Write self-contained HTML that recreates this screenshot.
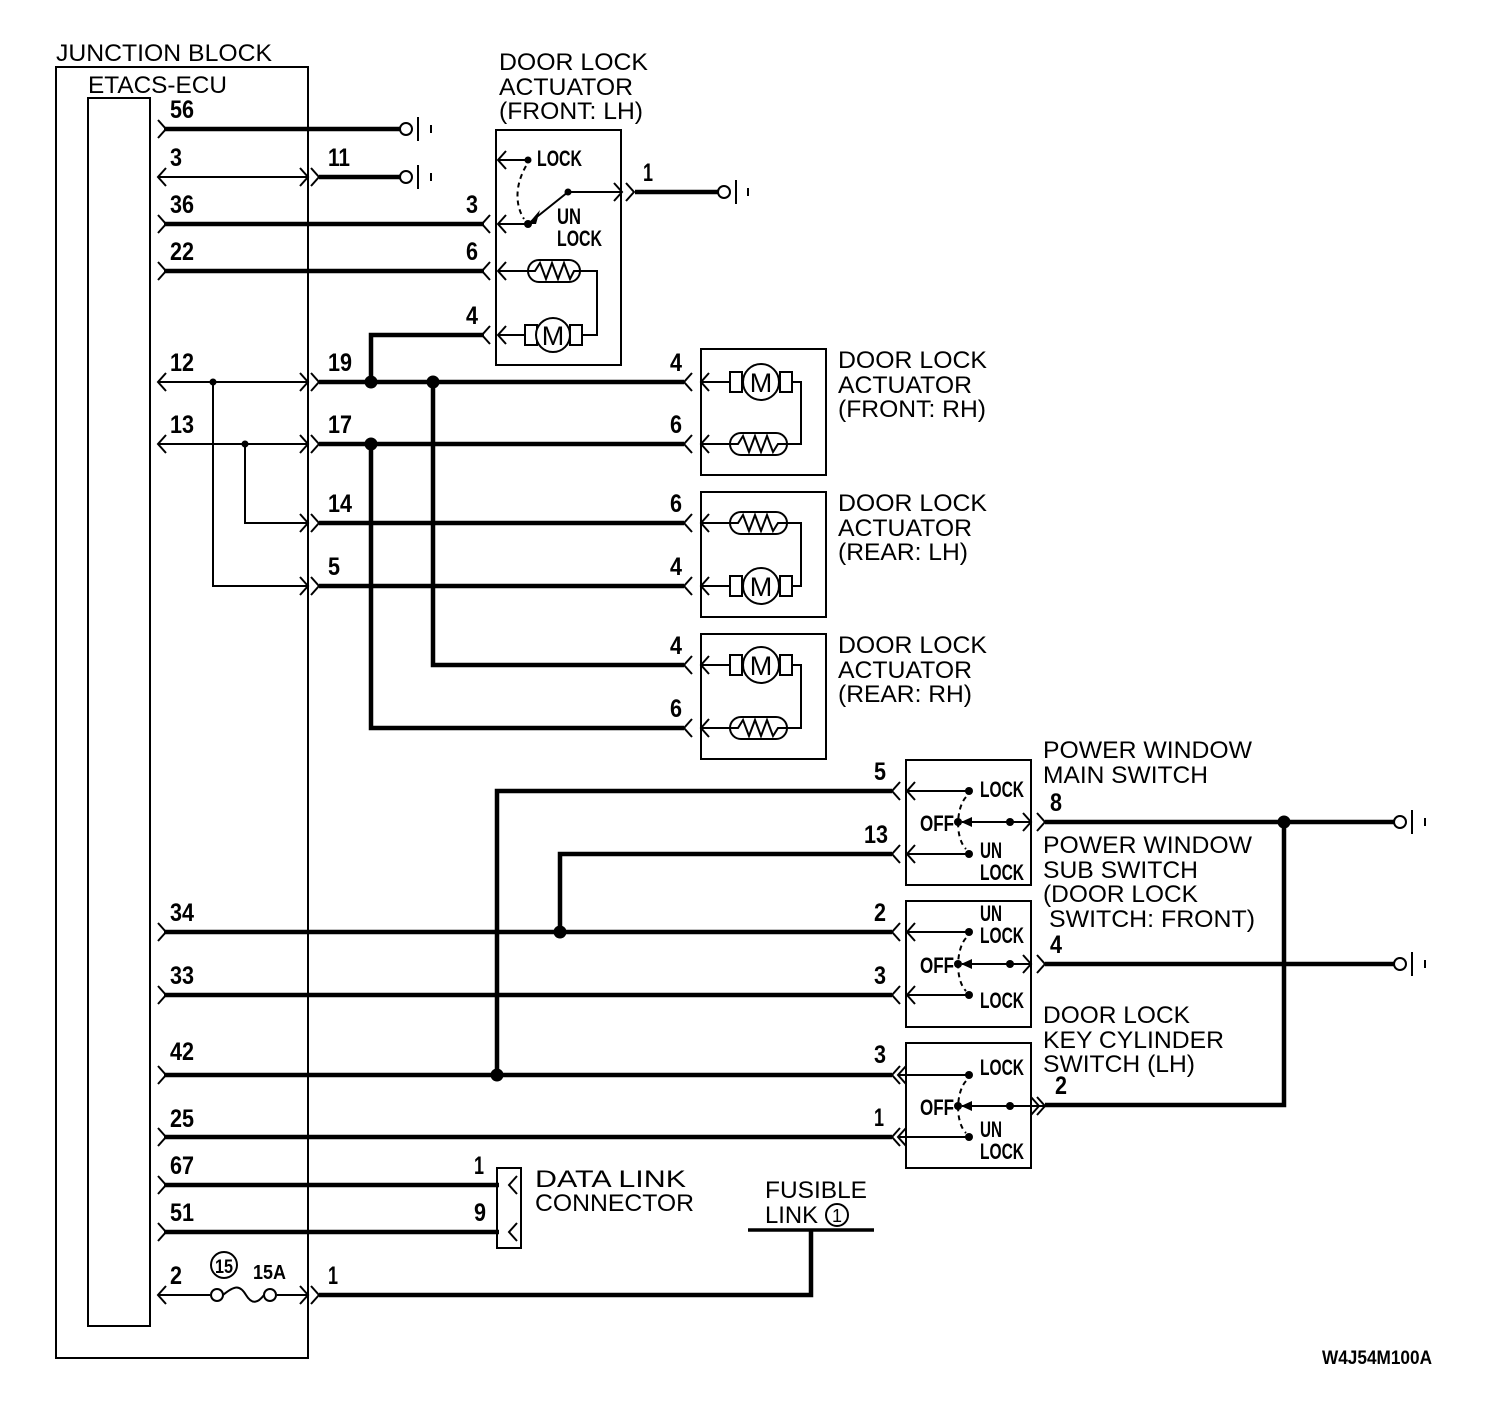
<!DOCTYPE html>
<html><head><meta charset="utf-8"><style>
html,body{margin:0;padding:0;background:#fff}
svg{display:block}
.t{stroke:#000;stroke-width:2;fill:none}
.k{stroke:#000;stroke-width:4.5;fill:none}
.b{stroke:#000;stroke-width:2;fill:none}
.l{font-family:"Liberation Sans",sans-serif;font-size:24px;fill:#000}
.n{font-family:"Liberation Sans",sans-serif;font-size:25px;font-weight:bold;fill:#000}
.s{font-family:"Liberation Sans",sans-serif;font-size:22px;font-weight:bold;fill:#000}
</style></head><body>
<svg width="1504" height="1424" viewBox="0 0 1504 1424" xmlns="http://www.w3.org/2000/svg">
<rect x="56" y="67" width="252" height="1291" class="b"/>
<rect x="88" y="98" width="62" height="1228" class="b"/>
<text x="56" y="61" class="l" textLength="216" lengthAdjust="spacingAndGlyphs">JUNCTION BLOCK</text>
<text x="88" y="93" class="l" textLength="139" lengthAdjust="spacingAndGlyphs">ETACS-ECU</text>

<g class="t">
<path d="M158,120 L166,129 L158,138"/>
<path d="M166,168 L158,177 L166,186"/>
<path d="M158,215 L166,224 L158,233"/>
<path d="M158,262 L166,271 L158,280"/>
<path d="M166,373 L158,382 L166,391"/>
<path d="M166,435 L158,444 L166,453"/>
<path d="M158,923 L166,932 L158,941"/>
<path d="M158,986 L166,995 L158,1004"/>
<path d="M158,1066 L166,1075 L158,1084"/>
<path d="M158,1128 L166,1137 L158,1146"/>
<path d="M158,1176 L166,1185 L158,1194"/>
<path d="M158,1223 L166,1232 L158,1241"/>
<path d="M166,1286 L158,1295 L166,1304"/>
<path d="M300,168 L308,177 L300,186"/><path d="M311,168 L319,177 L311,186"/>
<path d="M300,373 L308,382 L300,391"/><path d="M311,373 L319,382 L311,391"/>
<path d="M300,435 L308,444 L300,453"/><path d="M311,435 L319,444 L311,453"/>
<path d="M300,514 L308,523 L300,532"/><path d="M311,514 L319,523 L311,532"/>
<path d="M300,577 L308,586 L300,595"/><path d="M311,577 L319,586 L311,595"/>
<path d="M300,1286 L308,1295 L300,1304"/><path d="M311,1286 L319,1295 L311,1304"/>
</g>

<g class="t">
<line x1="158" y1="177" x2="308" y2="177"/>
<line x1="158" y1="382" x2="308" y2="382"/>
<line x1="158" y1="444" x2="308" y2="444"/>
<polyline points="213,382 213,586 308,586"/>
<polyline points="245,444 245,523 308,523"/>
<line x1="158" y1="1295" x2="210" y2="1295"/>
<line x1="277" y1="1295" x2="308" y2="1295"/>
<circle cx="217" cy="1295" r="6"/><circle cx="270" cy="1295" r="6"/>
<path d="M223,1295 C235,1285 240,1285 246,1295 C252,1305 258,1303 264,1295"/>
<circle cx="224" cy="1265" r="13"/>
</g>
<circle cx="213" cy="382" r="3.5"/><circle cx="245" cy="444" r="3.5"/>

<g class="k">
<line x1="164" y1="129" x2="400" y2="129"/>
<line x1="319" y1="177" x2="400" y2="177"/>
<line x1="164" y1="224" x2="484" y2="224"/>
<line x1="164" y1="271" x2="484" y2="271"/>
<polyline points="371,382 371,335 484,335"/>
<line x1="319" y1="382" x2="684" y2="382"/>
<line x1="319" y1="444" x2="684" y2="444"/>
<line x1="319" y1="523" x2="684" y2="523"/>
<line x1="319" y1="586" x2="684" y2="586"/>
<polyline points="433,382 433,665 684,665"/>
<polyline points="371,444 371,728 684,728"/>
<line x1="164" y1="932" x2="892" y2="932"/>
<line x1="164" y1="995" x2="892" y2="995"/>
<line x1="164" y1="1075" x2="892" y2="1075"/>
<line x1="164" y1="1137" x2="892" y2="1137"/>
<polyline points="497,1075 497,791 892,791"/>
<polyline points="560,932 560,854 892,854"/>
<line x1="164" y1="1185" x2="499" y2="1185"/>
<line x1="164" y1="1232" x2="499" y2="1232"/>
<polyline points="319,1295 811,1295 811,1230"/>
<line x1="748" y1="1230" x2="874" y2="1230" style="stroke-width:3.5"/>
<line x1="635" y1="192" x2="718" y2="192"/>
<line x1="1045" y1="822" x2="1394" y2="822"/>
<line x1="1045" y1="964" x2="1394" y2="964"/>
<polyline points="1045,1105 1284,1105 1284,822"/>
</g>
<circle cx="371" cy="382" r="6.5"/><circle cx="433" cy="382" r="6.5"/><circle cx="371" cy="444" r="6.5"/>
<circle cx="560" cy="932" r="6.5"/><circle cx="497" cy="1075" r="6.5"/><circle cx="1284" cy="822" r="6.5"/>

<g class="t">
<circle cx="406" cy="129" r="6"/><line x1="418" y1="117" x2="418" y2="141"/><line x1="431" y1="125" x2="431" y2="133"/>
<circle cx="406" cy="177" r="6"/><line x1="418" y1="165" x2="418" y2="189"/><line x1="431" y1="173" x2="431" y2="181"/>
<circle cx="724" cy="192" r="6"/><line x1="736" y1="180" x2="736" y2="204"/><line x1="748" y1="188" x2="748" y2="196"/>
<circle cx="1400" cy="822" r="6"/><line x1="1412" y1="810" x2="1412" y2="834"/><line x1="1425" y1="818" x2="1425" y2="826"/>
<circle cx="1400" cy="964" r="6"/><line x1="1412" y1="952" x2="1412" y2="976"/><line x1="1425" y1="960" x2="1425" y2="968"/>
</g>

<rect x="496" y="130" width="125" height="235" class="b"/>
<g class="t">
<path d="M490,215 L482,224 L490,233"/><path d="M506,215 L498,224 L506,233"/>
<path d="M490,262 L482,271 L490,280"/><path d="M506,262 L498,271 L506,280"/>
<path d="M490,326 L482,335 L490,344"/><path d="M506,326 L498,335 L506,344"/>
<path d="M506,151 L498,160 L506,169"/>
<line x1="498" y1="160" x2="528" y2="160"/>
<line x1="498" y1="224" x2="528" y2="224"/>
<line x1="528" y1="224" x2="568" y2="192"/>
<line x1="568" y1="192" x2="622" y2="192"/>
<path d="M614,183 L622,192 L614,201"/><path d="M626,183 L634,192 L626,201"/>
<path d="M526,166 C515,185 515,205 524,219" stroke-dasharray="5,4"/>
<line x1="498" y1="271" x2="528" y2="271"/>
<rect x="528" y="260" width="52" height="22" rx="11"/>
<polyline points="528,271 535,271 540,263 546,279 552,263 558,279 564,263 570,279 574,271 580,271"/>
<polyline points="580,271 597,271 597,335 582,335"/>
<line x1="498" y1="335" x2="525" y2="335"/>
<rect x="525" y="325" width="12" height="20"/><rect x="570" y="325" width="12" height="20"/>
<circle cx="553" cy="335" r="17" fill="#fff"/>
</g>
<path d="M528,224 L540,210 L536,224 Z"/>
<circle cx="528" cy="160" r="3.5"/><circle cx="528" cy="224" r="4"/><circle cx="568" cy="192" r="3.5"/>
<text x="553" y="345" class="l" text-anchor="middle" style="font-size:27px">M</text>
<text x="537" y="166" class="s" textLength="45" lengthAdjust="spacingAndGlyphs">LOCK</text>
<text x="557" y="224" class="s" textLength="24" lengthAdjust="spacingAndGlyphs">UN</text>
<text x="557" y="246" class="s" textLength="45" lengthAdjust="spacingAndGlyphs">LOCK</text>
<text x="499" y="70" class="l" textLength="149" lengthAdjust="spacingAndGlyphs">DOOR LOCK</text>
<text x="499" y="95" class="l" textLength="134" lengthAdjust="spacingAndGlyphs">ACTUATOR</text>
<text x="499" y="119" class="l" textLength="144" lengthAdjust="spacingAndGlyphs">(FRONT: LH)</text>

<g class="t">
<rect x="701" y="349" width="125" height="126"/>
<rect x="701" y="492" width="125" height="125"/>
<rect x="701" y="634" width="125" height="125"/>
<path d="M692,373 L684,382 L692,391"/><path d="M709,373 L701,382 L709,391"/>
<path d="M692,435 L684,444 L692,453"/><path d="M709,435 L701,444 L709,453"/>
<path d="M692,514 L684,523 L692,532"/><path d="M709,514 L701,523 L709,532"/>
<path d="M692,577 L684,586 L692,595"/><path d="M709,577 L701,586 L709,595"/>
<path d="M692,656 L684,665 L692,674"/><path d="M709,656 L701,665 L709,674"/>
<path d="M692,719 L684,728 L692,737"/><path d="M709,719 L701,728 L709,737"/>
</g>
<g class="t">
<line x1="701" y1="382" x2="730" y2="382"/><rect x="730" y="372" width="12" height="20"/><rect x="780" y="372" width="12" height="20"/><circle cx="761" cy="382" r="18" fill="#fff"/>
<line x1="701" y1="444" x2="730" y2="444"/><rect x="730" y="433" width="57" height="22" rx="11"/>
<polyline points="730,444 738,444 743,436 749,452 755,436 761,452 767,436 773,452 778,444 787,444"/>
<polyline points="792,382 801,382 801,444 787,444"/>
<line x1="701" y1="523" x2="730" y2="523"/><rect x="730" y="512" width="57" height="22" rx="11"/>
<polyline points="730,523 738,523 743,515 749,531 755,515 761,531 767,515 773,531 778,523 787,523"/>
<line x1="701" y1="586" x2="730" y2="586"/><rect x="730" y="576" width="12" height="20"/><rect x="780" y="576" width="12" height="20"/><circle cx="761" cy="586" r="18" fill="#fff"/>
<polyline points="787,523 801,523 801,586 792,586"/>
<line x1="701" y1="665" x2="730" y2="665"/><rect x="730" y="655" width="12" height="20"/><rect x="780" y="655" width="12" height="20"/><circle cx="761" cy="665" r="18" fill="#fff"/>
<line x1="701" y1="728" x2="730" y2="728"/><rect x="730" y="717" width="57" height="22" rx="11"/>
<polyline points="730,728 738,728 743,720 749,736 755,720 761,736 767,720 773,736 778,728 787,728"/>
<polyline points="792,665 801,665 801,728 787,728"/>
</g>
<text x="761" y="392" class="l" text-anchor="middle" style="font-size:27px">M</text>
<text x="761" y="596" class="l" text-anchor="middle" style="font-size:27px">M</text>
<text x="761" y="675" class="l" text-anchor="middle" style="font-size:27px">M</text>
<text x="838" y="368" class="l" textLength="149" lengthAdjust="spacingAndGlyphs">DOOR LOCK</text>
<text x="838" y="393" class="l" textLength="134" lengthAdjust="spacingAndGlyphs">ACTUATOR</text>
<text x="838" y="417" class="l" textLength="148" lengthAdjust="spacingAndGlyphs">(FRONT: RH)</text>
<text x="838" y="511" class="l" textLength="149" lengthAdjust="spacingAndGlyphs">DOOR LOCK</text>
<text x="838" y="536" class="l" textLength="134" lengthAdjust="spacingAndGlyphs">ACTUATOR</text>
<text x="838" y="560" class="l" textLength="130" lengthAdjust="spacingAndGlyphs">(REAR: LH)</text>
<text x="838" y="653" class="l" textLength="149" lengthAdjust="spacingAndGlyphs">DOOR LOCK</text>
<text x="838" y="678" class="l" textLength="134" lengthAdjust="spacingAndGlyphs">ACTUATOR</text>
<text x="838" y="702" class="l" textLength="134" lengthAdjust="spacingAndGlyphs">(REAR: RH)</text>

<g class="t">
<rect x="906" y="760" width="125" height="125"/>
<rect x="906" y="901" width="125" height="126"/>
<rect x="906" y="1043" width="125" height="125"/>
<path d="M900,782 L892,791 L900,800"/><path d="M915,782 L907,791 L915,800"/><line x1="907" y1="791" x2="969" y2="791"/>
<path d="M900,845 L892,854 L900,863"/><path d="M915,845 L907,854 L915,863"/><line x1="907" y1="854" x2="969" y2="854"/>
<line x1="962" y1="822" x2="1031" y2="822"/><path d="M1023,813 L1031,822 L1023,831"/><path d="M1037,813 L1045,822 L1037,831"/>
<path d="M966,797 C956,808 955,838 966,849" stroke-dasharray="5,4"/>
<path d="M900,923 L892,932 L900,941"/><path d="M915,923 L907,932 L915,941"/><line x1="907" y1="932" x2="969" y2="932"/>
<path d="M900,986 L892,995 L900,1004"/><path d="M915,986 L907,995 L915,1004"/><line x1="907" y1="995" x2="969" y2="995"/>
<line x1="962" y1="964" x2="1031" y2="964"/><path d="M1023,955 L1031,964 L1023,973"/><path d="M1037,955 L1045,964 L1037,973"/>
<path d="M966,938 C956,949 955,980 966,991" stroke-dasharray="5,4"/>
<path d="M900,1066 L892,1075 L900,1084"/><path d="M906,1066 L898,1075 L906,1084"/><line x1="898" y1="1075" x2="969" y2="1075"/>
<path d="M900,1128 L892,1137 L900,1146"/><path d="M906,1128 L898,1137 L906,1146"/><line x1="898" y1="1137" x2="969" y2="1137"/>
<line x1="962" y1="1106" x2="1045" y2="1106"/><path d="M1031,1097 L1039,1106 L1031,1115"/><path d="M1037,1097 L1045,1106 L1037,1115"/>
<path d="M966,1081 C956,1092 955,1122 966,1133" stroke-dasharray="5,4"/>
</g>
<g>
<circle cx="969" cy="791" r="4"/><circle cx="969" cy="854" r="4"/><circle cx="958" cy="822" r="4"/><circle cx="1010" cy="822" r="4"/><path d="M961,822 L972,817 L972,827 Z"/>
<circle cx="969" cy="932" r="4"/><circle cx="969" cy="995" r="4"/><circle cx="958" cy="964" r="4"/><circle cx="1010" cy="964" r="4"/><path d="M961,964 L972,959 L972,969 Z"/>
<circle cx="969" cy="1075" r="4"/><circle cx="969" cy="1137" r="4"/><circle cx="958" cy="1106" r="4"/><circle cx="1010" cy="1106" r="4"/><path d="M961,1106 L972,1101 L972,1111 Z"/>
</g>
<text x="980" y="797" class="s" textLength="44" lengthAdjust="spacingAndGlyphs">LOCK</text>
<text x="920" y="831" class="s" textLength="34" lengthAdjust="spacingAndGlyphs">OFF</text>
<text x="980" y="858" class="s" textLength="22" lengthAdjust="spacingAndGlyphs">UN</text>
<text x="980" y="880" class="s" textLength="44" lengthAdjust="spacingAndGlyphs">LOCK</text>
<text x="980" y="921" class="s" textLength="22" lengthAdjust="spacingAndGlyphs">UN</text>
<text x="980" y="943" class="s" textLength="44" lengthAdjust="spacingAndGlyphs">LOCK</text>
<text x="920" y="973" class="s" textLength="34" lengthAdjust="spacingAndGlyphs">OFF</text>
<text x="980" y="1008" class="s" textLength="44" lengthAdjust="spacingAndGlyphs">LOCK</text>
<text x="980" y="1075" class="s" textLength="44" lengthAdjust="spacingAndGlyphs">LOCK</text>
<text x="920" y="1115" class="s" textLength="34" lengthAdjust="spacingAndGlyphs">OFF</text>
<text x="980" y="1137" class="s" textLength="22" lengthAdjust="spacingAndGlyphs">UN</text>
<text x="980" y="1159" class="s" textLength="44" lengthAdjust="spacingAndGlyphs">LOCK</text>

<text x="1043" y="758" class="l" textLength="209" lengthAdjust="spacingAndGlyphs">POWER WINDOW</text>
<text x="1043" y="783" class="l" textLength="165" lengthAdjust="spacingAndGlyphs">MAIN SWITCH</text>
<text x="1043" y="853" class="l" textLength="209" lengthAdjust="spacingAndGlyphs">POWER WINDOW</text>
<text x="1043" y="878" class="l" textLength="155" lengthAdjust="spacingAndGlyphs">SUB SWITCH</text>
<text x="1043" y="902" class="l" textLength="155" lengthAdjust="spacingAndGlyphs">(DOOR LOCK</text>
<text x="1049" y="927" class="l" textLength="206" lengthAdjust="spacingAndGlyphs">SWITCH: FRONT)</text>
<text x="1043" y="1023" class="l" textLength="147" lengthAdjust="spacingAndGlyphs">DOOR LOCK</text>
<text x="1043" y="1048" class="l" textLength="181" lengthAdjust="spacingAndGlyphs">KEY CYLINDER</text>
<text x="1043" y="1072" class="l" textLength="152" lengthAdjust="spacingAndGlyphs">SWITCH (LH)</text>

<rect x="497" y="1168" width="24" height="80" class="b"/>
<g class="t"><path d="M517,1176 L509,1185 L517,1194"/><path d="M517,1223 L509,1232 L517,1241"/></g>
<text x="535" y="1187" class="l" textLength="151" lengthAdjust="spacingAndGlyphs">DATA LINK</text>
<text x="535" y="1211" class="l" textLength="159" lengthAdjust="spacingAndGlyphs">CONNECTOR</text>

<text x="765" y="1198" class="l" textLength="102" lengthAdjust="spacingAndGlyphs">FUSIBLE</text>
<text x="765" y="1223" class="l" textLength="53" lengthAdjust="spacingAndGlyphs">LINK</text>
<circle cx="837" cy="1215" r="11" class="t"/>
<text x="837" y="1222" class="l" text-anchor="middle" style="font-size:18px">1</text>

<g class="n">
<text x="170" y="118" textLength="24" lengthAdjust="spacingAndGlyphs">56</text>
<text x="170" y="166" textLength="12" lengthAdjust="spacingAndGlyphs">3</text>
<text x="328" y="166" textLength="22" lengthAdjust="spacingAndGlyphs">11</text>
<text x="170" y="213" textLength="24" lengthAdjust="spacingAndGlyphs">36</text>
<text x="170" y="260" textLength="24" lengthAdjust="spacingAndGlyphs">22</text>
<text x="466" y="213" textLength="12" lengthAdjust="spacingAndGlyphs">3</text>
<text x="466" y="260" textLength="12" lengthAdjust="spacingAndGlyphs">6</text>
<text x="466" y="324" textLength="12" lengthAdjust="spacingAndGlyphs">4</text>
<text x="643" y="181" textLength="10" lengthAdjust="spacingAndGlyphs">1</text>
<text x="170" y="371" textLength="24" lengthAdjust="spacingAndGlyphs">12</text>
<text x="328" y="371" textLength="24" lengthAdjust="spacingAndGlyphs">19</text>
<text x="170" y="433" textLength="24" lengthAdjust="spacingAndGlyphs">13</text>
<text x="328" y="433" textLength="24" lengthAdjust="spacingAndGlyphs">17</text>
<text x="328" y="512" textLength="24" lengthAdjust="spacingAndGlyphs">14</text>
<text x="328" y="575" textLength="12" lengthAdjust="spacingAndGlyphs">5</text>
<text x="670" y="371" textLength="12" lengthAdjust="spacingAndGlyphs">4</text>
<text x="670" y="433" textLength="12" lengthAdjust="spacingAndGlyphs">6</text>
<text x="670" y="512" textLength="12" lengthAdjust="spacingAndGlyphs">6</text>
<text x="670" y="575" textLength="12" lengthAdjust="spacingAndGlyphs">4</text>
<text x="670" y="654" textLength="12" lengthAdjust="spacingAndGlyphs">4</text>
<text x="670" y="717" textLength="12" lengthAdjust="spacingAndGlyphs">6</text>
<text x="874" y="780" textLength="12" lengthAdjust="spacingAndGlyphs">5</text>
<text x="864" y="843" textLength="24" lengthAdjust="spacingAndGlyphs">13</text>
<text x="874" y="921" textLength="12" lengthAdjust="spacingAndGlyphs">2</text>
<text x="874" y="984" textLength="12" lengthAdjust="spacingAndGlyphs">3</text>
<text x="874" y="1063" textLength="12" lengthAdjust="spacingAndGlyphs">3</text>
<text x="874" y="1126" textLength="10" lengthAdjust="spacingAndGlyphs">1</text>
<text x="1050" y="811" textLength="12" lengthAdjust="spacingAndGlyphs">8</text>
<text x="1050" y="953" textLength="12" lengthAdjust="spacingAndGlyphs">4</text>
<text x="1055" y="1094" textLength="12" lengthAdjust="spacingAndGlyphs">2</text>
<text x="170" y="921" textLength="24" lengthAdjust="spacingAndGlyphs">34</text>
<text x="170" y="984" textLength="24" lengthAdjust="spacingAndGlyphs">33</text>
<text x="170" y="1060" textLength="24" lengthAdjust="spacingAndGlyphs">42</text>
<text x="170" y="1127" textLength="24" lengthAdjust="spacingAndGlyphs">25</text>
<text x="170" y="1174" textLength="24" lengthAdjust="spacingAndGlyphs">67</text>
<text x="170" y="1221" textLength="24" lengthAdjust="spacingAndGlyphs">51</text>
<text x="474" y="1174" textLength="10" lengthAdjust="spacingAndGlyphs">1</text>
<text x="474" y="1221" textLength="12" lengthAdjust="spacingAndGlyphs">9</text>
<text x="170" y="1284" textLength="12" lengthAdjust="spacingAndGlyphs">2</text>
<text x="328" y="1284" textLength="10" lengthAdjust="spacingAndGlyphs">1</text>
<text x="215" y="1273" style="font-size:19px" textLength="18" lengthAdjust="spacingAndGlyphs">15</text>
<text x="253" y="1279" style="font-size:20px" textLength="33" lengthAdjust="spacingAndGlyphs">15A</text>
<text x="1322" y="1364" style="font-size:19px" textLength="110" lengthAdjust="spacingAndGlyphs">W4J54M100A</text>
</g>
</svg>
</body></html>
